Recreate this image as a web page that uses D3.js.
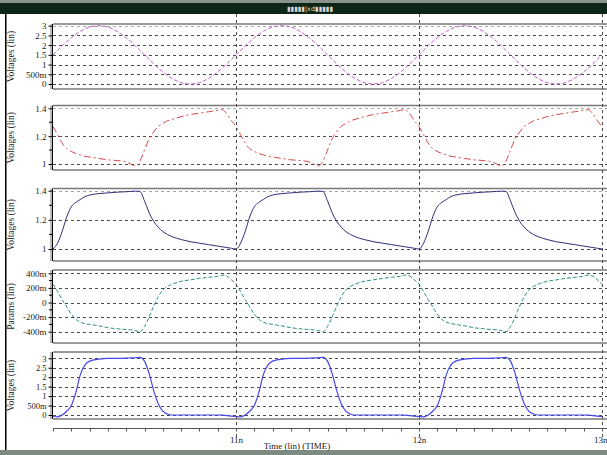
<!DOCTYPE html>
<html>
<head>
<meta charset="utf-8">
<script src="https://cdn.jsdelivr.net/npm/d3@7"></script>
<style>
  body { margin: 0; background: #fff; }
  svg { display: block; }
  .tick text { font-family: "Liberation Serif", "DejaVu Serif", serif; }
</style>
</head>
<body>
<div id="chart"></div>
<script>
// sample times (ns)
var time = [
  10.000, 10.025, 10.050, 10.075, 10.100, 10.125, 10.150, 10.175, 10.200, 10.250, 10.300, 10.350, 10.400, 10.425, 10.450, 10.475,
  10.500, 10.525, 10.550, 10.575, 10.600, 10.625, 10.650, 10.700, 10.750, 10.800, 10.850, 10.900, 10.925, 10.950, 10.975,
  11.000, 11.025, 11.050, 11.075, 11.100, 11.125, 11.150, 11.175, 11.200, 11.250, 11.300, 11.350, 11.400, 11.425, 11.450, 11.475,
  11.500, 11.525, 11.550, 11.575, 11.600, 11.625, 11.650, 11.700, 11.750, 11.800, 11.850, 11.900, 11.925, 11.950, 11.975,
  12.000, 12.025, 12.050, 12.075, 12.100, 12.125, 12.150, 12.175, 12.200, 12.250, 12.300, 12.350, 12.400, 12.425, 12.450, 12.475,
  12.500, 12.525, 12.550, 12.575, 12.600, 12.625, 12.650, 12.700, 12.750, 12.800, 12.850, 12.900, 12.925, 12.950, 12.975,
  13.000
];

var vSine = [
  1.5, 1.73, 1.96, 2.18, 2.38, 2.56, 2.71, 2.84, 2.93, 3.0, 2.93, 2.71, 2.38, 2.18, 1.96, 1.73,
  1.5, 1.27, 1.04, 0.82, 0.62, 0.44, 0.29, 0.07, 0.0, 0.07, 0.29, 0.62, 0.82, 1.04, 1.27,
  1.5, 1.73, 1.96, 2.18, 2.38, 2.56, 2.71, 2.84, 2.93, 3.0, 2.93, 2.71, 2.38, 2.18, 1.96, 1.73,
  1.5, 1.27, 1.04, 0.82, 0.62, 0.44, 0.29, 0.07, 0.0, 0.07, 0.29, 0.62, 0.82, 1.04, 1.27,
  1.5, 1.73, 1.96, 2.18, 2.38, 2.56, 2.71, 2.84, 2.93, 3.0, 2.93, 2.71, 2.38, 2.18, 1.96, 1.73,
  1.5, 1.27, 1.04, 0.82, 0.62, 0.44, 0.29, 0.07, 0.0, 0.07, 0.29, 0.62, 0.82, 1.04, 1.27,
  1.5
];

var vRed = [
  1.27, 1.21, 1.15, 1.11, 1.09, 1.075, 1.065, 1.055, 1.05, 1.04, 1.03, 1.025, 1.015, 1.0, 0.985, 1.02,
  1.10, 1.18, 1.23, 1.27, 1.29, 1.31, 1.32, 1.34, 1.355, 1.365, 1.375, 1.385, 1.39, 1.36, 1.31,
  1.27, 1.21, 1.15, 1.11, 1.09, 1.075, 1.065, 1.055, 1.05, 1.04, 1.03, 1.025, 1.015, 1.0, 0.985, 1.02,
  1.10, 1.18, 1.23, 1.27, 1.29, 1.31, 1.32, 1.34, 1.355, 1.365, 1.375, 1.385, 1.39, 1.36, 1.31,
  1.27, 1.21, 1.15, 1.11, 1.09, 1.075, 1.065, 1.055, 1.05, 1.04, 1.03, 1.025, 1.015, 1.0, 0.985, 1.02,
  1.10, 1.18, 1.23, 1.27, 1.29, 1.31, 1.32, 1.34, 1.355, 1.365, 1.375, 1.385, 1.39, 1.36, 1.31,
  1.27
];

var vNavy = [
  1.0, 1.04, 1.12, 1.22, 1.29, 1.32, 1.34, 1.36, 1.37, 1.38, 1.385, 1.39, 1.393, 1.395, 1.397, 1.395,
  1.33, 1.25, 1.19, 1.15, 1.12, 1.10, 1.085, 1.065, 1.05, 1.04, 1.03, 1.02, 1.015, 1.01, 1.005,
  1.0, 1.04, 1.12, 1.22, 1.29, 1.32, 1.34, 1.36, 1.37, 1.38, 1.385, 1.39, 1.393, 1.395, 1.397, 1.395,
  1.33, 1.25, 1.19, 1.15, 1.12, 1.10, 1.085, 1.065, 1.05, 1.04, 1.03, 1.02, 1.015, 1.01, 1.005,
  1.0, 1.04, 1.12, 1.22, 1.29, 1.32, 1.34, 1.36, 1.37, 1.38, 1.385, 1.39, 1.393, 1.395, 1.397, 1.395,
  1.33, 1.25, 1.19, 1.15, 1.12, 1.10, 1.085, 1.065, 1.05, 1.04, 1.03, 1.02, 1.015, 1.01, 1.005,
  1.0
];

var pTeal = [
  0.25, 0.15, 0.04, -0.06, -0.16, -0.23, -0.27, -0.29, -0.30, -0.32, -0.345, -0.36, -0.37, -0.375, -0.385, -0.40,
  -0.33, -0.2, -0.05, 0.08, 0.17, 0.22, 0.25, 0.29, 0.31, 0.33, 0.345, 0.36, 0.375, 0.36, 0.31,
  0.25, 0.15, 0.04, -0.06, -0.16, -0.23, -0.27, -0.29, -0.30, -0.32, -0.345, -0.36, -0.37, -0.375, -0.385, -0.40,
  -0.33, -0.2, -0.05, 0.08, 0.17, 0.22, 0.25, 0.29, 0.31, 0.33, 0.345, 0.36, 0.375, 0.36, 0.31,
  0.25, 0.15, 0.04, -0.06, -0.16, -0.23, -0.27, -0.29, -0.30, -0.32, -0.345, -0.36, -0.37, -0.375, -0.385, -0.40,
  -0.33, -0.2, -0.05, 0.08, 0.17, 0.22, 0.25, 0.29, 0.31, 0.33, 0.345, 0.36, 0.375, 0.36, 0.31,
  0.25
];

var vBlue = [
  -0.08, -0.1, 0.0, 0.2, 0.5, 1.2, 2.15, 2.65, 2.85, 2.96, 3.0, 3.0, 3.01, 3.02, 3.03, 3.05,
  2.85, 2.2, 1.3, 0.6, 0.2, 0.05, 0.0, 0.0, 0.0, 0.0, 0.0, 0.0, -0.01, -0.03, -0.06,
  -0.08, -0.1, 0.0, 0.2, 0.5, 1.2, 2.15, 2.65, 2.85, 2.96, 3.0, 3.0, 3.01, 3.02, 3.03, 3.05,
  2.85, 2.2, 1.3, 0.6, 0.2, 0.05, 0.0, 0.0, 0.0, 0.0, 0.0, 0.0, -0.01, -0.03, -0.06,
  -0.08, -0.1, 0.0, 0.2, 0.5, 1.2, 2.15, 2.65, 2.85, 2.96, 3.0, 3.0, 3.01, 3.02, 3.03, 3.05,
  2.85, 2.2, 1.3, 0.6, 0.2, 0.05, 0.0, 0.0, 0.0, 0.0, 0.0, 0.0, -0.01, -0.03, -0.06,
  -0.08
];

// tick values
var voltTicks = [0, 0.5, 1, 1.5, 2, 2.5, 3];
var lowTicks = [1, 1.2, 1.4];
var lowMinor = [1.1, 1.3];
var paramTicks = [-0.4, -0.2, 0, 0.2, 0.4];
var paramMinor = [-0.3, -0.1, 0.1, 0.3];
var timeTicks = [11, 12, 13];
var timeMinor = d3.range(10, 13.001, 0.1);

var W = 607, H = 455;
var left = 53, right = 607;
var fontSerif = '"Liberation Serif", "DejaVu Serif", serif';

var svg = d3.select("#chart").append("svg")
  .attr("width", W)
  .attr("height", H);

// window chrome
svg.append("rect").attr("x", 0).attr("y", 0).attr("width", W).attr("height", 3).attr("fill", "#8a928c");
svg.append("rect").attr("x", 0).attr("y", 3).attr("width", W).attr("height", 11).attr("fill", "#0b2616");
svg.append("text")
  .attr("x", 310).attr("y", 11)
  .attr("text-anchor", "middle")
  .attr("fill", "#d8d8d8")
  .style("font-family", "DejaVu Sans, sans-serif")
  .style("font-size", "6.5px")
  .text("▮▮▮▮▮|xd▮▮▮▮▮");
svg.append("rect").attr("x", 5).attr("y", 14).attr("width", 1.5).attr("height", 436).attr("fill", "#000");
svg.append("rect").attr("x", 0).attr("y", 450).attr("width", W).attr("height", 5).attr("fill", "#7d8a82");

var x = d3.scaleLinear().domain([10, 13]).range([left, 602]);

function fmt(v) {
  if (v === 0) return "0";
  if (Math.abs(v) < 1) return Math.round(v * 1000) + "m";
  return String(v);
}

var panels = [
  {vals: vSine, top: 24, bot: 89, dom: [0, 3], rng: [84, 25.7], ticks: voltTicks, minor: [], title: "Voltages (lin)",
   color: "#c25fc8", dash: "4,2", width: 1, fs: 9},
  {vals: vRed, top: 105.5, bot: 170, dom: [1, 1.4], rng: [164, 108.3], ticks: lowTicks, minor: lowMinor, title: "Voltages (lin)",
   color: "#d9474a", dash: "7,3,2,3", width: 1, fs: 9},
  {vals: vNavy, top: 188.5, bot: 261, dom: [1, 1.4], rng: [249, 190.7], ticks: lowTicks, minor: lowMinor, title: "Voltages (lin)",
   color: "#2e2e78", dash: null, width: 1, fs: 9},
  {vals: pTeal, top: 270, bot: 343, dom: [-0.4, 0.4], rng: [331.7, 273.3], ticks: paramTicks, minor: paramMinor, title: "Params (lin)",
   color: "#2f8f8a", dash: "4,2", width: 1, fs: 9},
  {vals: vBlue, top: 352, bot: 419, dom: [0, 3], rng: [415, 358.3], ticks: voltTicks, minor: [], title: "Voltages (lin)",
   color: "#4646f0", dash: null, width: 1.2, fs: 8.5}
];

panels.forEach(function(p, i) {
  var y = d3.scaleLinear().domain(p.dom).range(p.rng);
  var g = svg.append("g");

  // frame
  g.append("line").attr("x1", left).attr("x2", right).attr("y1", p.top).attr("y2", p.top)
    .attr("stroke", "#7a7a7a").attr("stroke-width", 1.5);
  g.append("line").attr("x1", left).attr("x2", right).attr("y1", p.bot).attr("y2", p.bot)
    .attr("stroke", "#7a7a7a").attr("stroke-width", 1.5);
  g.append("line").attr("x1", left - 2).attr("x2", left - 2).attr("y1", p.top).attr("y2", p.bot)
    .attr("stroke", "#7a7a7a").attr("stroke-width", 1);

  // grid
  g.selectAll(".grid").data(p.ticks).enter().append("line")
    .attr("x1", left).attr("x2", right)
    .attr("y1", function(d) { return Math.round(y(d)) + 0.5; })
    .attr("y2", function(d) { return Math.round(y(d)) + 0.5; })
    .attr("stroke", function(d) { return (y(d) - p.top < 3) ? "#a8a8a8" : "#4a4a4a"; })
    .attr("stroke-dasharray", "3,3");

  // y axis
  var ax = g.append("g")
    .attr("transform", "translate(" + (left - 0.5) + ",0)")
    .call(d3.axisLeft(y).tickValues(p.ticks).tickFormat(fmt).tickSize(4).tickSizeOuter(0));
  ax.select(".domain").attr("d", "M0," + p.top + "V" + p.bot).attr("stroke", "#000");
  ax.selectAll(".tick text")
    .style("font-family", fontSerif)
    .style("font-size", p.fs + "px")
    .attr("fill", "#222")
    .attr("x", -6)
    .attr("dy", "0.32em");
  g.selectAll(".minor").data(p.minor).enter().append("line")
    .attr("x1", left - 4).attr("x2", left)
    .attr("y1", function(d) { return y(d); })
    .attr("y2", function(d) { return y(d); })
    .attr("stroke", "#000");

  g.append("text")
    .attr("transform", "translate(14," + ((p.top + p.bot) / 2) + ")rotate(-90)")
    .attr("text-anchor", "middle")
    .style("font-family", fontSerif)
    .style("font-size", "9.5px")
    .attr("fill", "#222")
    .text(p.title);

  // waveform
  var clipId = "clip" + i;
  svg.append("clipPath").attr("id", clipId).append("rect")
    .attr("x", left).attr("y", p.top - 4).attr("width", right - left).attr("height", p.bot - p.top + 6);
  var line = d3.line()
    .x(function(d, k) { return x(time[k]); })
    .y(function(d) { return y(d); })
    .curve(d3.curveMonotoneX);
  g.append("path")
    .datum(p.vals)
    .attr("clip-path", "url(#" + clipId + ")")
    .attr("d", line)
    .attr("fill", "none")
    .attr("stroke", p.color)
    .attr("stroke-width", p.width)
    .attr("stroke-dasharray", p.dash);
});

// vertical time grid
svg.selectAll(".vgrid").data(timeTicks).enter().append("line")
  .attr("x1", function(d) { return Math.round(x(d)) + 0.5; })
  .attr("x2", function(d) { return Math.round(x(d)) + 0.5; })
  .attr("y1", 14).attr("y2", 437)
  .attr("stroke", "#4a4a4a")
  .attr("stroke-dasharray", "3,3");

// x axis
var axY = 428.5;
svg.append("line").attr("x1", left).attr("x2", right).attr("y1", axY).attr("y2", axY).attr("stroke", "#555");
svg.selectAll(".xminor").data(timeMinor).enter().append("line")
  .attr("x1", function(d) { return Math.round(x(d)) + 0.5; })
  .attr("x2", function(d) { return Math.round(x(d)) + 0.5; })
  .attr("y1", axY).attr("y2", axY + 3)
  .attr("stroke", "#555");
var xa = svg.append("g")
  .attr("transform", "translate(0," + axY + ")")
  .call(d3.axisBottom(x).tickValues(timeTicks).tickFormat(function(d) { return d + "n"; }).tickSize(0));
xa.select(".domain").remove();
xa.selectAll(".tick text")
  .attr("y", 8)
  .attr("text-anchor", function(d) { return d === 13 ? "end" : "middle"; })
  .attr("dx", function(d) { return d === 13 ? "5" : "0"; })
  .style("font-family", fontSerif)
  .style("font-size", "9px")
  .attr("fill", "#222");

svg.append("text")
  .attr("x", 297).attr("y", 449)
  .attr("text-anchor", "middle")
  .style("font-family", fontSerif)
  .style("font-size", "9px")
  .attr("fill", "#222")
  .text("Time (lin) (TIME)");
</script>
</body>
</html>
